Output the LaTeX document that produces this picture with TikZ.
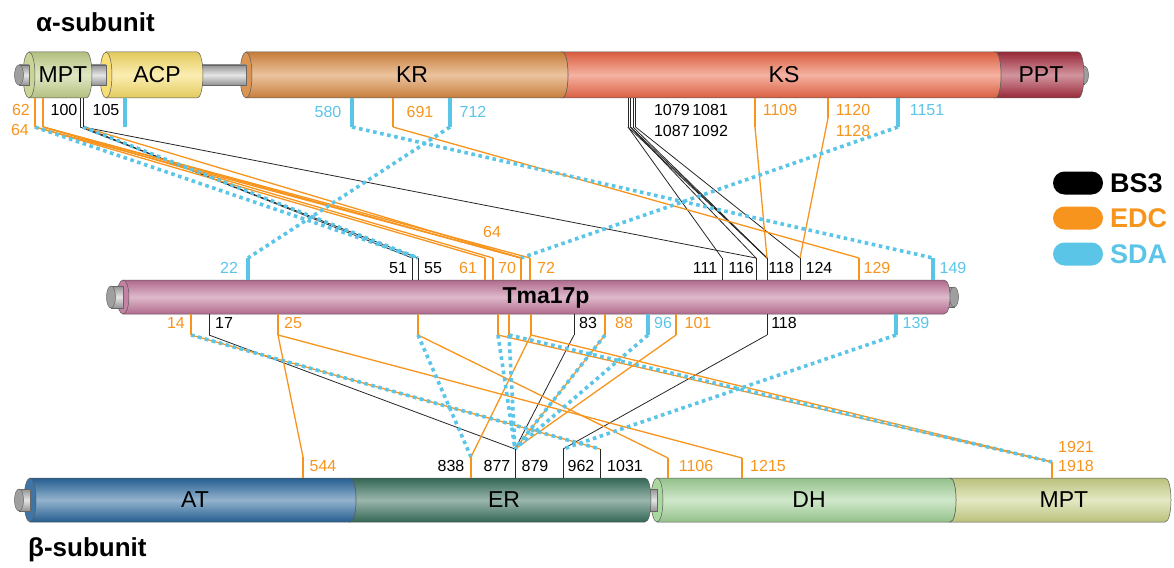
\documentclass[tikz,border=0pt]{standalone}
\usepackage{fontspec}
\setmainfont{Liberation Sans}
\definecolor{edc}{HTML}{F7941D}
\definecolor{sda}{HTML}{5BC5E8}
\definecolor{cMPTa}{HTML}{C2D08A}
\definecolor{cACP}{HTML}{F7DC66}
\definecolor{cKR}{HTML}{D8883F}
\definecolor{cKS}{HTML}{EC6645}
\definecolor{cPPT}{HTML}{A52B3D}
\definecolor{cTma}{HTML}{BF7398}
\definecolor{cAT}{HTML}{28669C}
\definecolor{cER}{HTML}{376F5C}
\definecolor{cDH}{HTML}{A0D196}
\definecolor{cMPTb}{HTML}{CAD287}
% body, concave left end, convex right end: x1 x2 ytop ybot colour
\newcommand\cylmid[5]{%
 \shadedraw[top color=#5!92!black,bottom color=#5!92!black,middle color=#5!50!white,draw=black!65,line width=0.5pt]
 (#1,#3) -- (#2,#3) .. controls ({#2+8},#3) and ({#2+8},#4) .. (#2,#4) -- (#1,#4) .. controls ({#1+8},#4) and ({#1+8},#3) .. (#1,#3) -- cycle;}
% body with visible left face: x1 x2 ytop ybot colour ycentre halfheight
\newcommand\cylleft[7]{%
 \shadedraw[top color=#5!92!black,bottom color=#5!92!black,middle color=#5!50!white,draw=black!65,line width=0.5pt]
 (#1,#3) -- (#2,#3) .. controls ({#2+8},#3) and ({#2+8},#4) .. (#2,#4) -- (#1,#4) -- cycle;
 \filldraw[fill=#5!90!white,draw=black!65,line width=0.5pt] (#1,#6) ellipse [x radius=6pt,y radius=#7pt];}
% grey rod: x1 x2 ycentre halfheight
\newcommand\rodpiece[4]{%
 \shadedraw[top color=gray!85,bottom color=gray!85,middle color=gray!20,draw=black!60,line width=0.5pt]
 (#1,{#3-#4}) rectangle (#2,{#3+#4});}
\newcommand\rodcap[3]{%
 \filldraw[fill=gray!75,draw=black!60,line width=0.5pt] (#1,#2) ellipse [x radius=4.5pt,y radius=#3pt];}
\begin{document}
\begin{tikzpicture}[x=1pt,y=-1pt,
  bsl/.style={black!85,line width=0.8pt},
  edl/.style={edc,line width=1.3pt},
  sdl/.style={sda,line width=3.6pt,dash pattern=on 3.6pt off 3.6pt},
  sds/.style={sda,line width=3.6pt},
  num/.style={font=\fontsize{16}{18}\selectfont,inner sep=0pt},
  dom/.style={font=\fontsize{23}{25}\selectfont,inner sep=0pt},
  pill/.style={rounded corners=11.5pt,minimum width=50pt,minimum height=23pt,inner sep=0pt},
  leg/.style={font=\bfseries\fontsize{27}{29}\selectfont,anchor=west,inner sep=0pt}]
\useasboundingbox (0,0) rectangle (1174,567);

% ---------------- titles
\node[font=\bfseries\fontsize{26}{28}\selectfont,anchor=west,inner sep=0pt] (alpha) at (36,22) {α-subunit};
\node[font=\bfseries\fontsize{26}{28}\selectfont,anchor=west,inner sep=0pt] (beta) at (28,550) {β-subunit};

% ---------------- alpha subunit bar
\rodpiece{1070}{1084}{75}{9}\rodcap{1084}{75}{9}
\cylmid{995}{1078}{52}{98}{cPPT}
\cylmid{562}{995}{52}{98}{cKS}
\cylleft{246}{562}{52}{98}{cKR}{75}{23}
\rodpiece{200}{246}{75}{10}
\cylleft{106}{197}{52}{98}{cACP}{75}{23}
\rodpiece{88}{106}{75}{10}
\cylleft{29}{86}{52}{98}{cMPTa}{75}{23}
\rodpiece{19}{29}{75}{10}\rodcap{19}{75}{10}
\node[dom] (dMPTa) at (63,75) {MPT};
\node[dom] (dACP) at (157,75) {ACP};
\node[dom] (dKR) at (412,75) {KR};
\node[dom] (dKS) at (784,75) {KS};
\node[dom] (dPPT) at (1041,75) {PPT};

% ---------------- Tma17p bar
\rodpiece{938}{954}{297}{10}\rodcap{954}{297}{10}
\cylleft{123}{944}{280}{314}{cTma}{297}{17}
\rodpiece{111}{123}{297}{11}\rodcap{111}{297}{11}
\node[font=\bfseries\fontsize{23}{25}\selectfont,inner sep=0pt] (dTma) at (546,298) {Tma17p};

% ---------------- beta subunit bar
\cylmid{950}{1165}{478}{522}{cMPTb}
\cylleft{657}{950}{478}{522}{cDH}{500}{22}
\rodpiece{645}{657}{500}{11}
\cylmid{350}{645}{478}{522}{cER}
\cylleft{30}{350}{478}{522}{cAT}{500}{22}
\rodpiece{19}{30}{500}{11}\rodcap{19}{500}{11}
\node[dom] (dAT) at (195,500) {AT};
\node[dom] (dER) at (504,500) {ER};
\node[dom] (dDH) at (809,500) {DH};
\node[dom] (dMPTb) at (1064,500) {MPT};

% ---------------- anchor points
\foreach \n/\x in {62/35,64/43,100/80,105/83,105s/125,580/352,691/393,712/450,1079/628,1081/630.5,1087/633,1092/635.5,1109/755,1151/898}
  {\coordinate (a\n) at (\x,98); \coordinate (a\n-e) at (\x,127);}
\coordinate (a1120) at (828,98); \coordinate (a1120-e) at (828,118);
\foreach \n/\x in {22/248,51/412,55/418,61/485,64/493,70/521,72/530,111/722,116/756,118/767,124/800,129/859,149/933}
  {\coordinate (t\n) at (\x,280); \coordinate (t\n-e) at (\x,258);}
\foreach \n/\x in {14/191,17/209,25/278,55/418,70/498,72/509,74/531,83/574,88/605,96/648,101/676,118/767,139/896}
  {\coordinate (u\n) at (\x,314); \coordinate (u\n-e) at (\x,335);}
\foreach \n/\x/\y in {544/303/457,838/471/457,877/515/449,962/563/449,1031/600/449,1106/668/458,1215/742/458,1918/1052/462}
  {\coordinate (c\n) at (\x,478); \coordinate (c\n-e) at (\x,\y);}

% ---------------- alpha <-> Tma17p links
\foreach \p/\q in {a100/t55,a105/t51,a105/t116,a1079/t111,a1079/t118,a1081/t116,a1081/t118,a1087/t118,a1092/t124}
  {\draw[bsl] (\p-e) -- (\q-e);}
\foreach \p/\q in {a62/t61,a62/t70,a64/t64,a64/t70,a64/t72,a105/t70,a691/t129,a1109/t118,a1120/t124}
  {\draw[edl] (\p-e) -- (\q-e);}
\foreach \p/\q in {a62/t55,a105/t55,a580/t149,a712/t22,a1151/t70}
  {\draw[sdl] (\p-e) -- (\q-e);}

% ---------------- Tma17p <-> beta links
\foreach \p/\q in {u17/c877,u83/c877,u118/c962}
  {\draw[bsl] (\p-e) -- (\q-e);}
\foreach \p/\q in {u14/c1031,u25/c544,u25/c1215,u55/c1106,u74/c838,u70/c1918,u74/c1918,u88/c877,u101/c877}
  {\draw[edl] (\p-e) -- (\q-e);}
\foreach \p/\q in {u14/c1031,u55/c838,u70/c877,u72/c877,u72/c1918,u88/c877,u96/c877,u139/c962}
  {\draw[sdl] (\p-e) -- (\q-e);}

% ---------------- stubs
\foreach \s in {a62,a64,a691,a1109,a1120,t61,t64,t70,t72,t129,u14,u25,u55,u70,u72,u74,u88,u101,c544,c838,c1106,c1215,c1918}
  {\draw[edl] (\s) -- (\s-e);}
\foreach \s in {a100,a105,a1079,a1081,a1087,a1092,t51,t55,t111,t116,t118,t124,u17,u83,u118,c877,c962,c1031}
  {\draw[bsl] (\s) -- (\s-e);}
\foreach \s in {a105s,a580,a712,a1151,t22,t149,u96,u139}
  {\draw[sds] (\s) -- (\s-e);}

% ---------------- residue labels: alpha
\node[num,text=edc] (l62) at (21,110) {62};
\node[num,text=edc] (l64) at (20,130) {64};
\node[num] (l100) at (64,110) {100};
\node[num] (l105) at (106,110) {105};
\node[num,text=sda] (l580) at (328,112) {580};
\node[num,text=edc] (l691) at (420,112) {691};
\node[num,text=sda] (l712) at (473,112) {712};
\node[num] (l1079) at (691,110) {1079\,1081};
\node[num] (l1087) at (691,131) {1087\,1092};
\node[num,text=edc] (l1109) at (780,110) {1109};
\node[num,text=edc] (l1120) at (853,110) {1120};
\node[num,text=edc] (l1128) at (853,131) {1128};
\node[num,text=sda] (l1151) at (927,110) {1151};
% Tma17p top
\node[num,text=sda] (m22) at (229,268) {22};
\node[num] (m51) at (398,268) {51};
\node[num] (m55) at (433,268) {55};
\node[num,text=edc] (m61) at (468,268) {61};
\node[num,text=edc] (m64) at (492,232) {64};
\node[num,text=edc] (m70) at (507,268) {70};
\node[num,text=edc] (m72) at (546,268) {72};
\node[num] (m111) at (705,268) {111};
\node[num] (m116) at (741,268) {116};
\node[num] (m118) at (781,268) {118};
\node[num] (m124) at (819,268) {124};
\node[num,text=edc] (m129) at (877,268) {129};
\node[num,text=sda] (m149) at (953,268) {149};
% Tma17p bottom
\node[num,text=edc] (n14) at (176,323) {14};
\node[num] (n17) at (224,323) {17};
\node[num,text=edc] (n25) at (293,323) {25};
\node[num] (n83) at (588,323) {83};
\node[num,text=edc] (n88) at (624,323) {88};
\node[num,text=sda] (n96) at (663,323) {96};
\node[num,text=edc] (n101) at (698,323) {101};
\node[num] (n118) at (784,323) {118};
\node[num,text=sda] (n139) at (916,323) {139};
% beta
\node[num,text=edc] (b544) at (323,466) {544};
\node[num] (b838) at (451,466) {838};
\node[num] (b877) at (497,466) {877};
\node[num] (b879) at (535,466) {879};
\node[num] (b962) at (581,466) {962};
\node[num] (b1031) at (625,466) {1031};
\node[num,text=edc] (b1106) at (696,466) {1106};
\node[num,text=edc] (b1215) at (768,466) {1215};
\node[num,text=edc] (b1921) at (1076,447) {1921};
\node[num,text=edc] (b1918) at (1076,466) {1918};

% ---------------- legend
\node[pill,fill=black] (kBS3) at (1078,183) {};
\node[pill,fill=edc] (kEDC) at (1078,218) {};
\node[pill,fill=sda] (kSDA) at (1078,254) {};
\node[leg] (tBS3) at (1110,183) {BS3};
\node[leg,text=edc] (tEDC) at (1110,218) {EDC};
\node[leg,text=sda] (tSDA) at (1110,254) {SDA};
\end{tikzpicture}
\end{document}
